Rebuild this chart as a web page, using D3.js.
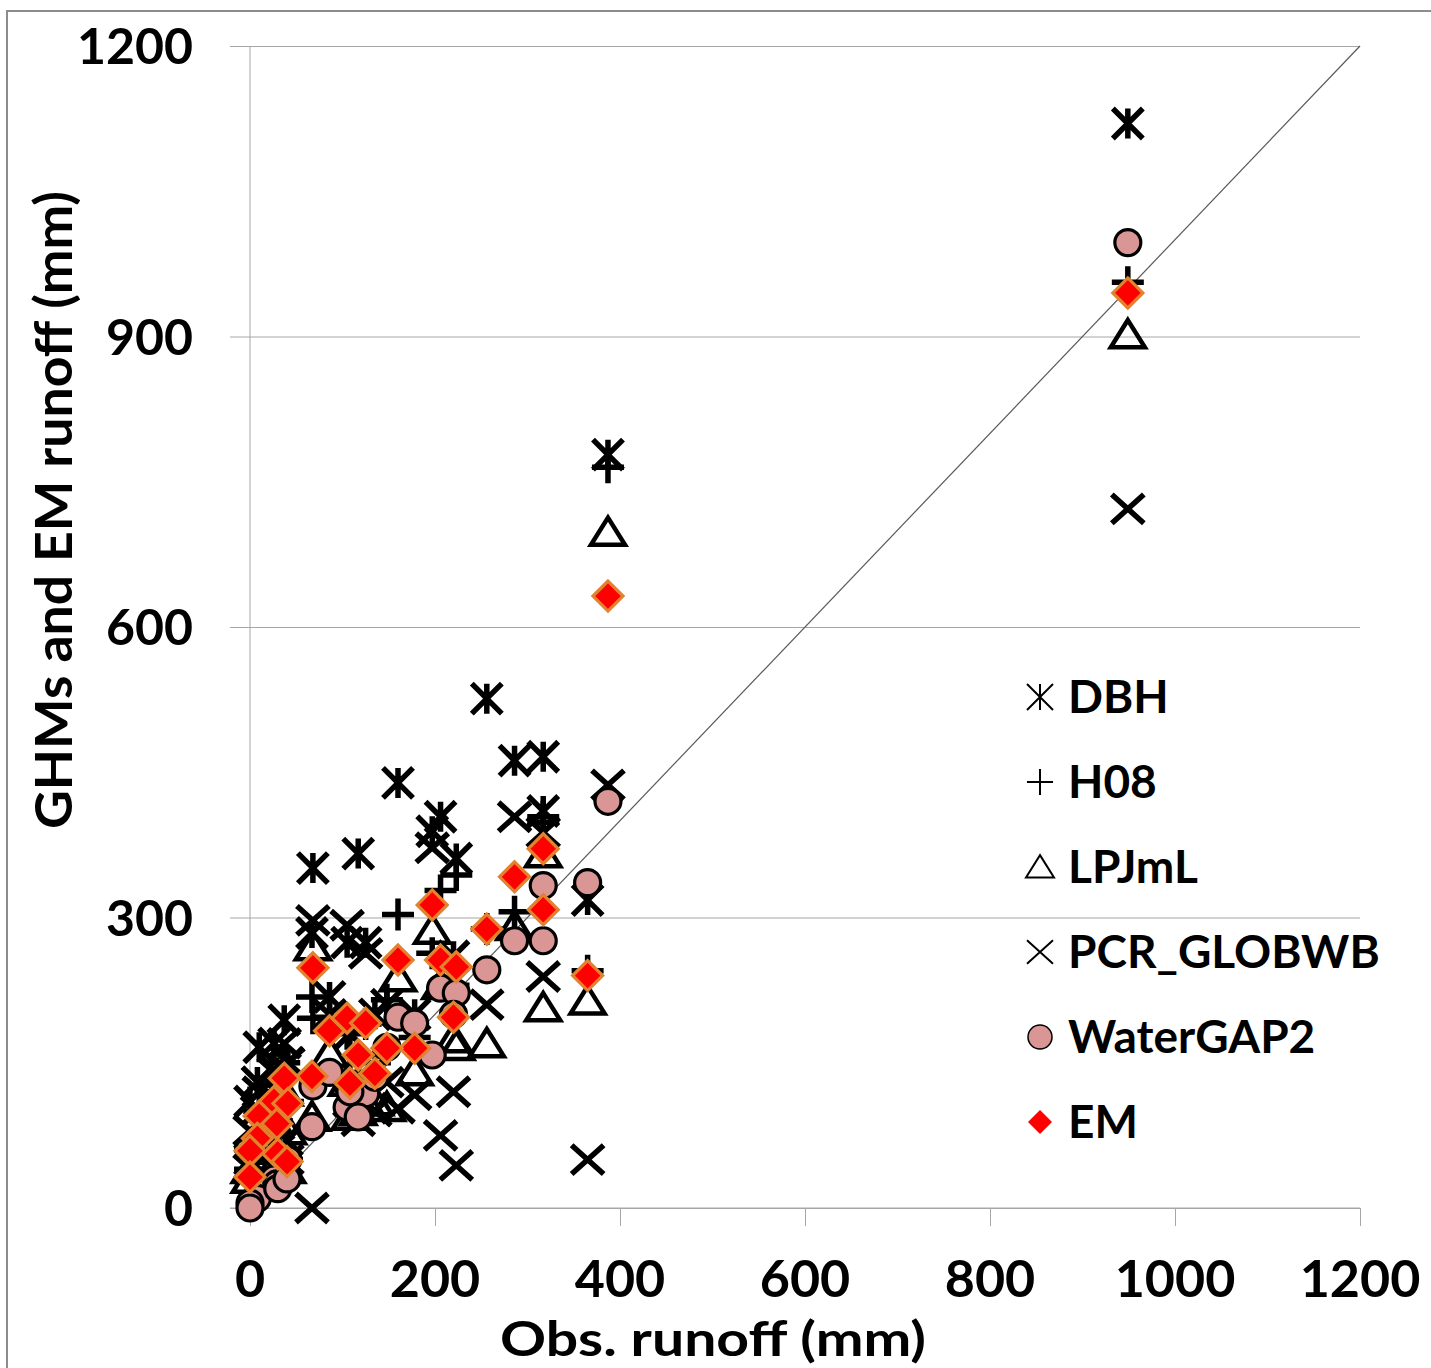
<!DOCTYPE html>
<html>
<head>
<meta charset="utf-8">
<script src="https://cdn.jsdelivr.net/npm/d3@7"></script>
<style>
  body { margin: 0; background: #fff; }
  text { font-family: Lato, "Open Sans", sans-serif; font-weight: bold; fill: #000; }
</style>
</head>
<body>
<div id="chart"></div>
<script>
/* Obs. vs simulated runoff scatter, one column of marks per basin */

// observed runoff per basin (mm)
const obs      = [949, 387, 365, 317, 317, 286, 256, 197, 206, 223, 220, 160, 68, 178, 148, 86, 105, 125, 117, 135, 108, 67, 37, 26, 41, 10, 29, 8, 0, 30, 40, 0];
// simulated runoff per model (mm), same basin order
const dbh      = [1120, 778, 318, 466, 410, 462, 526, 389, 404, 361, 260, 439, 351, 200, 210, 218, 274, 274, 366, 200, 180, 284, 194, 170, 150, 166, 140, 130, 110, 90, 70, 50];
const h08      = [956, 765, 245, 404, 398, 306, 288, 263, 328, 344, 230, 303, 196, 176, 215, 197, 180, 190, 140, 150, 140, 218, 150, 120, 110, 100, 90, 70, 60, 60, 50, 40];
const lpjml    = [902, 698, 214, 366, 207, 291, 170, 287, 230, 167, 175, 238, 270, 141, 104, 160, 130, 110, 100, 110, 95, 94, 120, 90, 80, 70, 60, 50, 40, 50, 40, 30];
const pcr      = [722, 437, 50, 388, 239, 404, 210, 372, 75, 44, 120, 103, 297, 117, 130, 200, 292, 263, 90, 100, 110, 0, 170, 140, 150, 120, 120, 100, 80, 60, 50, 40];
const watergap = [997, 420, 336, 333, 276, 276, 246, 158, 227, 222, 200, 197, 126, 191, 166, 140, 104, 118, 94, 135, 120, 84, 36, 30, 50, 19, 25, 10, 5, 20, 30, 0];
const em       = [945, 632, 240, 371, 308, 342, 288, 313, 256, 249, 197, 256, 248, 165, 165, 183, 196, 191, 158, 139, 129, 136, 134, 110, 108, 95, 87, 72, 59, 56, 48, 32];

const seriesNames = ["DBH", "H08", "LPJmL", "PCR_GLOBWB", "WaterGAP2", "EM"];
const xTicks = [0, 200, 400, 600, 800, 1000, 1200];
const yTicks = [0, 300, 600, 900, 1200];

const width = 1431, height = 1368;
const margin = { top: 46, right: 71, bottom: 160, left: 250 };

const svg = d3.select("#chart").append("svg")
    .attr("width", width)
    .attr("height", height);

const x = d3.scaleLinear().domain([0, 1200]).range([margin.left, width - margin.right]);
const y = d3.scaleLinear().domain([0, 1200]).range([height - margin.bottom, margin.top]);

// outer frame (top and left edges only are visible)
svg.append("path")
    .attr("d", "M7,1368L7,11L1431,11")
    .attr("fill", "none")
    .attr("stroke", "#8c8c8c")
    .attr("stroke-width", 2);

// horizontal gridlines + left ticks
svg.append("g")
    .attr("transform", `translate(${margin.left},0)`)
    .call(d3.axisLeft(y).tickValues(yTicks).tickSize(-(width - margin.right - margin.left)).tickSizeOuter(0).tickFormat(""))
    .call(g => g.select(".domain").remove())
    .call(g => g.selectAll(".tick line").attr("stroke", "#a6a6a6").attr("x1", -20));

// y axis line
svg.append("line")
    .attr("x1", x(0)).attr("x2", x(0))
    .attr("y1", y(1200)).attr("y2", y(0))
    .attr("stroke", "#a6a6a6");

// x axis
svg.append("g")
    .attr("transform", `translate(0,${y(0)})`)
    .call(d3.axisBottom(x).tickValues(xTicks).tickSize(18).tickSizeOuter(0).tickFormat(""))
    .call(g => g.select(".domain").attr("stroke", "#a6a6a6").attr("d", `M${x(0) - 20},0H${x(1200)}`))
    .call(g => g.selectAll(".tick line").attr("stroke", "#a6a6a6"));

// tick labels
svg.append("g").selectAll("text")
    .data(xTicks)
    .join("text")
    .attr("x", d => x(d))
    .attr("y", 1297)
    .attr("text-anchor", "middle")
    .style("font-size", "52px")
    .text(d => d);

svg.append("g").selectAll("text")
    .data(yTicks)
    .join("text")
    .attr("x", 193)
    .attr("y", d => y(d) + 18)
    .attr("text-anchor", "end")
    .style("font-size", "50px")
    .text(d => d);

// axis titles
svg.append("text")
    .attr("x", 713)
    .attr("y", 1356)
    .attr("text-anchor", "middle")
    .attr("textLength", 426)
    .attr("lengthAdjust", "spacingAndGlyphs")
    .style("font-size", "48px")
    .text("Obs. runoff (mm)");

svg.append("text")
    .attr("transform", "translate(72,510) rotate(-90)")
    .attr("text-anchor", "middle")
    .attr("textLength", 638)
    .attr("lengthAdjust", "spacingAndGlyphs")
    .style("font-size", "51px")
    .text("GHMs and EM runoff (mm)");

// 1:1 line
svg.append("line")
    .attr("x1", x(0)).attr("y1", y(0))
    .attr("x2", x(1200)).attr("y2", y(1200))
    .attr("stroke", "#595959")
    .attr("stroke-width", 1.2);

// marker shapes
const shapes = {
    asterisk: h => `M${-h},${-h}L${h},${h}M${-h},${h}L${h},${-h}M0,${-h}L0,${h}`,
    plus: h => `M${-h},0L${h},0M0,${-h}L0,${h}`,
    triangle: h => `M0,${-h * 0.85}L${h},${h * 0.75}L${-h},${h * 0.75}Z`,
    cross: h => `M${-h},${-h * 0.9}L${h},${h * 0.9}M${-h},${h * 0.9}L${h},${-h * 0.9}`,
    circle: h => `M${h},0A${h},${h} 0 1,1 ${-h},0A${h},${h} 0 1,1 ${h},0Z`,
    diamond: h => `M0,${-h}L${h},0L0,${h}L${-h},0Z`
};

const series = [
    { name: seriesNames[0], values: dbh, shape: "asterisk", size: 15, fill: "none", stroke: "#000", sw: 5.5, lsize: 13, lsw: 2 },
    { name: seriesNames[1], values: h08, shape: "plus", size: 16, fill: "none", stroke: "#000", sw: 5.5, lsize: 13, lsw: 2 },
    { name: seriesNames[2], values: lpjml, shape: "triangle", size: 17, fill: "none", stroke: "#000", sw: 4.5, lsize: 14, lsw: 2 },
    { name: seriesNames[3], values: pcr, shape: "cross", size: 16, fill: "none", stroke: "#000", sw: 5.5, lsize: 13, lsw: 2 },
    { name: seriesNames[4], values: watergap, shape: "circle", size: 13, fill: "#d99694", stroke: "#000", sw: 3.2, lsize: 12, lsw: 1.5 },
    { name: seriesNames[5], values: em, shape: "diamond", size: 15, fill: "#ff0000", stroke: "#e3822e", sw: 3.2, lsize: 12, lsw: 0 }
];

for (let s of series) {
    svg.append("g")
        .selectAll("path")
        .data(obs.map((o, i) => [o, s.values[i]]))
        .join("path")
        .attr("transform", d => `translate(${x(d[0])},${y(d[1])})`)
        .attr("d", shapes[s.shape](s.size))
        .attr("fill", s.fill)
        .attr("stroke", s.stroke)
        .attr("stroke-width", s.sw)
        .attr("stroke-linejoin", "miter");
}

// legend
const legend = svg.append("g").selectAll("g")
    .data(series)
    .join("g")
    .attr("transform", (d, i) => `translate(1040,${697 + i * 85})`);

legend.append("path")
    .attr("d", d => shapes[d.shape](d.lsize))
    .attr("fill", d => d.fill)
    .attr("stroke", d => d.lsw ? "#000" : "none")
    .attr("stroke-width", d => d.lsw);

legend.append("text")
    .attr("x", 28)
    .attr("y", 16)
    .style("font-size", "46px")
    .text(d => d.name);
</script>
</body>
</html>
